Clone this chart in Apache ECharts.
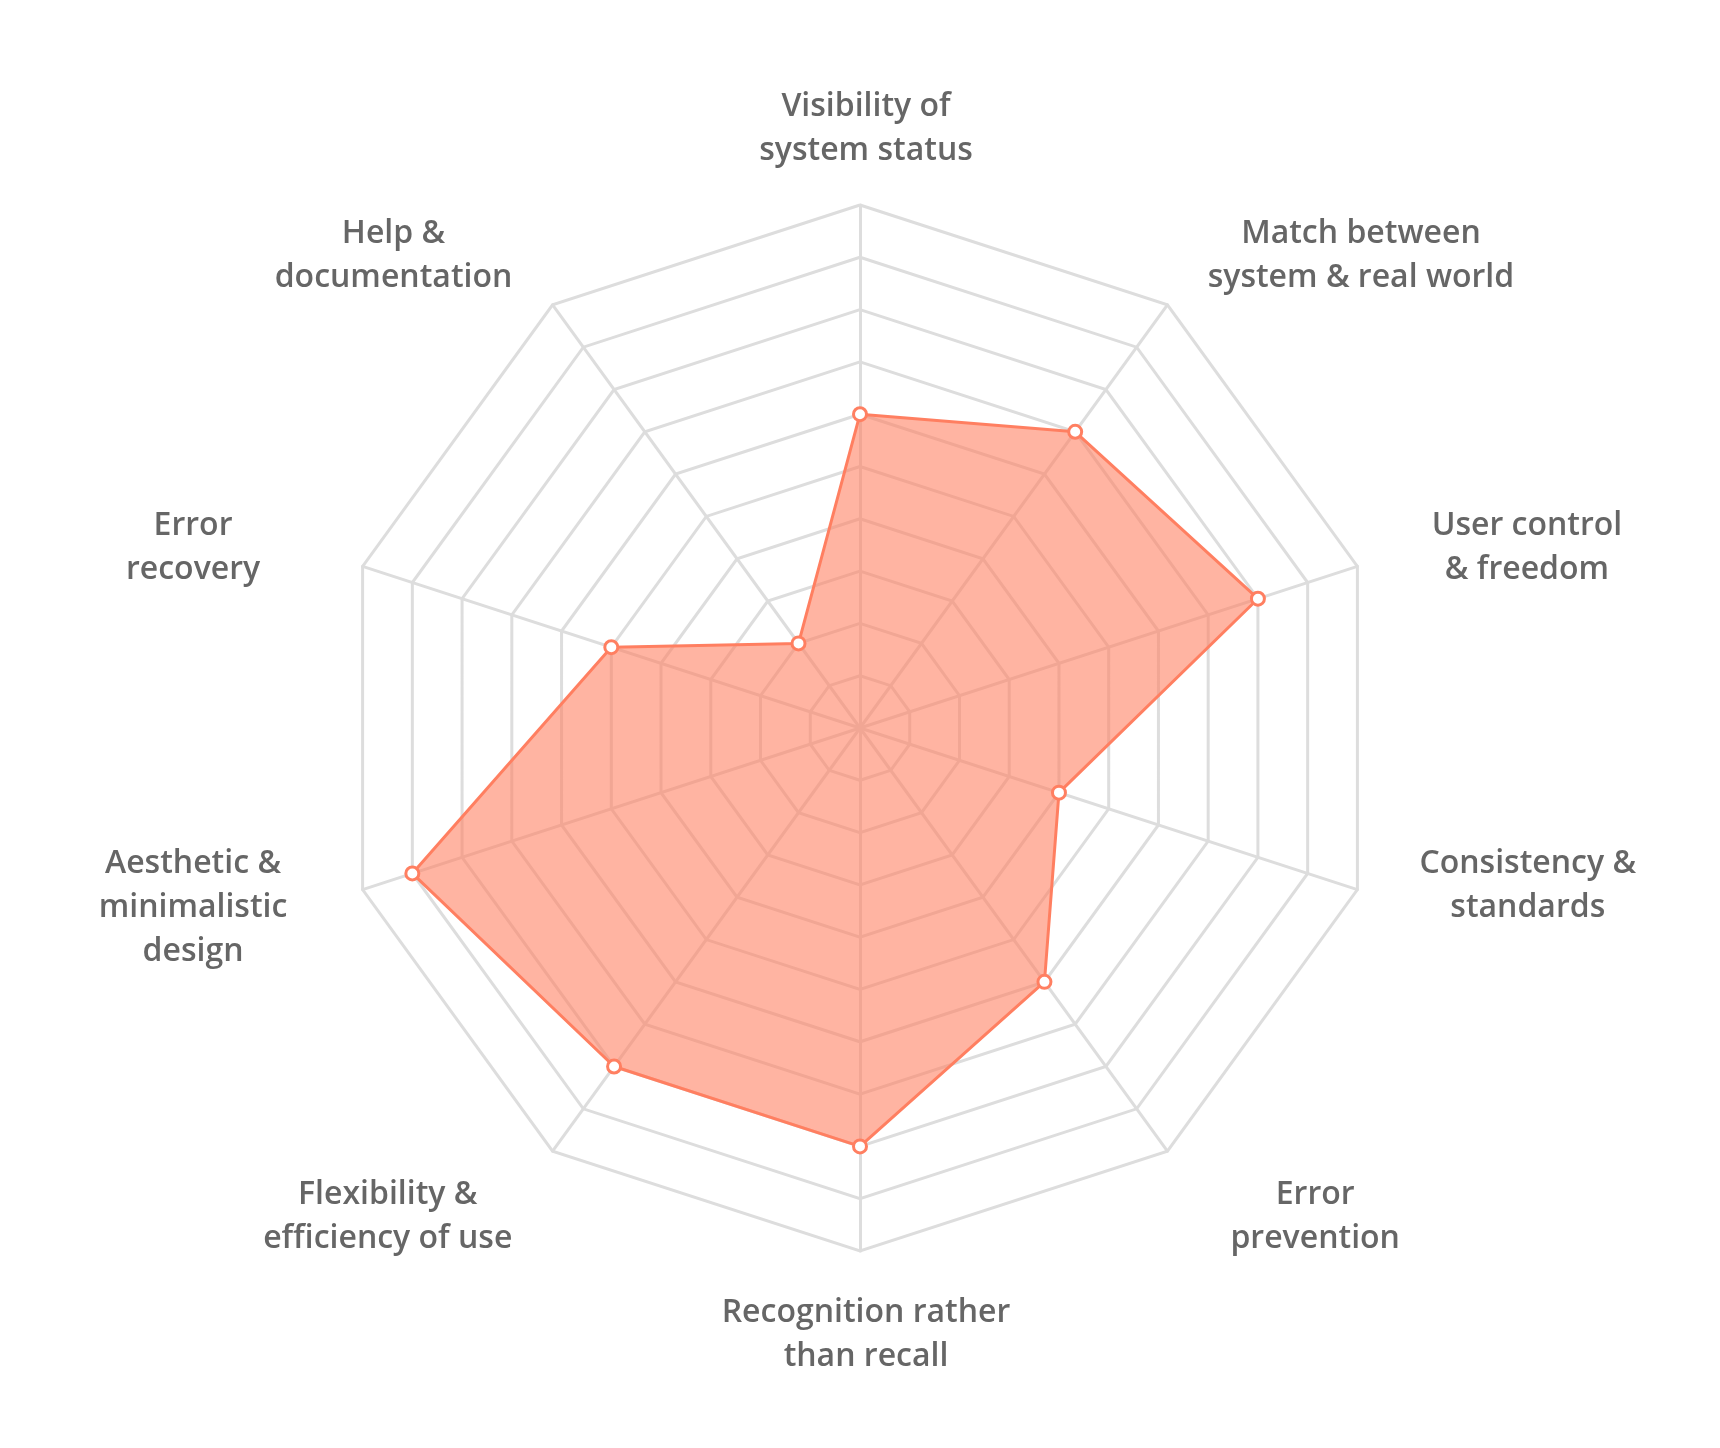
<!DOCTYPE html>
<html>
<head>
<meta charset="utf-8">
<script src="https://cdn.jsdelivr.net/npm/echarts@6/dist/echarts.min.js"></script>
<style>
  html, body { margin: 0; padding: 0; background: #fff; }
  #main { width: 1720px; height: 1448px; }
</style>
</head>
<body>
<div id="main"></div>
<script>
// heuristics, clockwise from the top
var categories = [
  "Visibility of\nsystem status",
  "Match between\nsystem & real world",
  "User control\n& freedom",
  "Consistency &\nstandards",
  "Error\nprevention",
  "Recognition rather\nthan recall",
  "Flexibility &\nefficiency of use",
  "Aesthetic &\nminimalistic\ndesign",
  "Error\nrecovery",
  "Help &\ndocumentation"
];
var scores = [6, 7, 8, 4, 6, 8, 8, 9, 5, 2];
var maxScore = 10;

var cx = 860, cy = 728, R = 523;
var labelFont = { fontSize: 32, fontWeight: 600, fontFamily: "Open Sans" };

// echarts radar goes counter-clockwise, so flip everything after the first
function toEchartsOrder(arr) {
  return [arr[0]].concat(arr.slice(1).reverse());
}

var measureCtx = document.createElement("canvas").getContext("2d");
measureCtx.font = "600 32px 'Open Sans'";
function blockWidth(text) {
  var w = 0;
  text.split("\n").forEach(function (line) {
    w = Math.max(w, measureCtx.measureText(line).width);
  });
  return w;
}

// names drawn by hand so the lines stay centred under each other
var labels = categories.map(function (name, i) {
  var ang = (90 - 36 * i) * Math.PI / 180;
  var c = Math.cos(ang), s = Math.sin(ang);
  var x, y, va = "middle";
  if (Math.abs(c) < 1e-3) {
    x = cx + 6;
    y = cy + 4 - s * (R + 80);
  } else {
    var half = Math.max(blockWidth(name) + 10, 225) / 2;
    x = cx + c * (R + 60) + (c > 0 ? half : -half);
    y = cy - s * (R + 60);
    if (s < 0) {
      // lower labels hang from their first line
      va = "top";
      y = y - 91 + 80 * Math.abs(s);
    }
  }
  return {
    type: "text",
    x: x,
    y: y,
    style: {
      text: name,
      fill: "#666666",
      fontSize: labelFont.fontSize,
      fontWeight: labelFont.fontWeight,
      fontFamily: labelFont.fontFamily,
      lineHeight: 44,
      align: "center",
      textAlign: "center",
      verticalAlign: va,
      textVerticalAlign: va
    }
  };
});

var chart = echarts.init(document.getElementById("main"));
var option = {
  backgroundColor: "#ffffff",
  animation: false,
  graphic: labels,
  radar: {
    center: [cx, cy],
    radius: R,
    startAngle: 90,
    splitNumber: 10,
    shape: "polygon",
    indicator: toEchartsOrder(categories).map(function (n) {
      return { name: n, max: maxScore, min: 0 };
    }),
    axisName: { show: false },
    axisLine: { lineStyle: { color: "#dddddd", width: 3 } },
    splitLine: { lineStyle: { color: "#dddddd", width: 3 } },
    splitArea: { show: false }
  },
  series: [
    {
      type: "radar",
      symbol: "circle",
      symbolSize: 13,
      lineStyle: { color: "#ff7f61", width: 3 },
      itemStyle: { color: "#ffffff", borderColor: "#ff7f61", borderWidth: 3 },
      areaStyle: { color: "#ff7f61", opacity: 0.59 },
      data: [{ value: toEchartsOrder(scores), name: "Score" }]
    }
  ]
};
chart.setOption(option);
</script>
</body>
</html>
